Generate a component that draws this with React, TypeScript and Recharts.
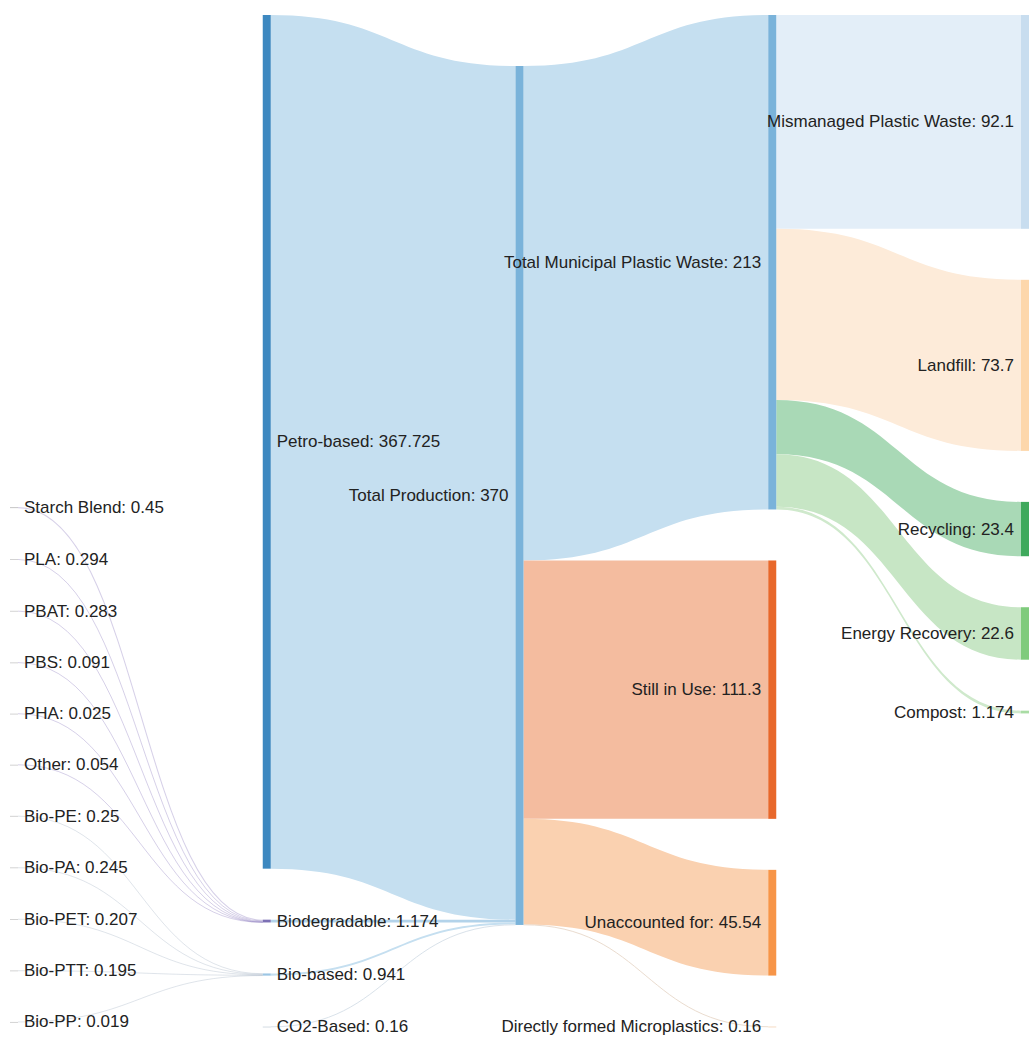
import { Sankey } from "recharts";

// left column: individual bio-plastic materials
const materials = [
  "Starch Blend",
  "PLA",
  "PBAT",
  "PBS",
  "PHA",
  "Other",
  "Bio-PE",
  "Bio-PA",
  "Bio-PET",
  "Bio-PTT",
  "Bio-PP",
];
const materialValues = [0.45, 0.294, 0.283, 0.091, 0.025, 0.054, 0.25, 0.245, 0.207, 0.195, 0.019];
const materialGroups = [
  "Biodegradable",
  "Biodegradable",
  "Biodegradable",
  "Biodegradable",
  "Biodegradable",
  "Biodegradable",
  "Bio-based",
  "Bio-based",
  "Bio-based",
  "Bio-based",
  "Bio-based",
];

const feedstocks = ["Petro-based", "Biodegradable", "Bio-based", "CO2-Based"];
const feedstockValues = [367.725, 1.174, 0.941, 0.16];
const feedstockColors = ["#3d88c0", "#7c70b4", "#9cc6e4", "#c9d3dc"];
const feedstockLinkColors = ["#c5dff0", "#b3d3ea", "#c5dff0", "#d9e2ea"];

const totalLabel = "Total Production";
const totalValue = 370;

const fates = [
  "Total Municipal Plastic Waste",
  "Still in Use",
  "Unaccounted for",
  "Directly formed Microplastics",
];
const fateValues = [213, 111.3, 45.54, 0.16];
const fateColors = ["#7ab3da", "#e8682b", "#f79548", "#f3d2b4"];
const fateLinkColors = ["#c5dff0", "#f4bc9f", "#fad1b0", "#eadccf"];

const treatments = ["Mismanaged Plastic Waste", "Landfill", "Recycling", "Energy Recovery", "Compost"];
const treatmentValues = [92.1, 73.7, 23.4, 22.6, 1.174];
const treatmentColors = ["#c8ddef", "#fdd7ab", "#3fa95c", "#7fcb7c", "#a9dca4"];
const treatmentLinkColors = ["#e3eef8", "#fdebd9", "#a9d9b6", "#c7e6c5", "#cfe9cc"];

// invisible helper nodes, only there to push columns into place
const SPACER_LEFT = 190;
const TINY = 0.001;

type N = { name: string; label?: string; color: string; hidden?: boolean };
type L = { source: number; target: number; value: number; color: string; hidden?: boolean };

const nodes: N[] = [];
const links: L[] = [];
const idx: Record<string, number> = {};
const add = (key: string, n: N) => {
  idx[key] = nodes.length;
  nodes.push(n);
};

add("spacerLeft", { name: "", color: "none", hidden: true });
materials.forEach((m, i) =>
  add(m, { name: m, label: `${m}: ${materialValues[i]}`, color: "#c8c8c8" })
);
feedstocks.forEach((f, i) =>
  add(f, { name: f, label: `${f}: ${feedstockValues[i]}`, color: feedstockColors[i] })
);
add("spacerMid", { name: "", color: "none", hidden: true });
add(totalLabel, { name: totalLabel, label: `${totalLabel}: ${totalValue}`, color: "#7ab3da" });
fates.forEach((f, i) => add(f, { name: f, label: `${f}: ${fateValues[i]}`, color: fateColors[i] }));
treatments.forEach((t, i) =>
  add(t, { name: t, label: `${t}: ${treatmentValues[i]}`, color: treatmentColors[i] })
);

links.push({ source: idx.spacerLeft, target: idx["Petro-based"], value: SPACER_LEFT, color: "none", hidden: true });
links.push({ source: idx.spacerLeft, target: idx["CO2-Based"], value: TINY, color: "none", hidden: true });
links.push({ source: idx["Petro-based"], target: idx.spacerMid, value: TINY, color: "none", hidden: true });
materials.forEach((m, i) =>
  links.push({
    source: idx[m],
    target: idx[materialGroups[i]],
    value: materialValues[i],
    color: materialGroups[i] === "Biodegradable" ? "rgba(120,100,180,0.3)" : "rgba(150,165,185,0.3)",
  })
);
feedstocks.forEach((f, i) =>
  links.push({ source: idx[f], target: idx[totalLabel], value: feedstockValues[i], color: feedstockLinkColors[i] })
);
fates.forEach((f, i) =>
  links.push({ source: idx[totalLabel], target: idx[f], value: fateValues[i], color: fateLinkColors[i] })
);
treatments.forEach((t, i) =>
  links.push({ source: idx[fates[0]], target: idx[t], value: treatmentValues[i], color: treatmentLinkColors[i] })
);

const FlowNode = (props: any) => {
  const { x, y, width, height, payload } = props;
  if (payload.hidden) return <g />;
  const onLeft = payload.depth <= 1;
  const cy = y + height / 2;
  return (
    <g>
      <rect x={x} y={y} width={width} height={Math.max(height, 0.8)} fill={payload.color} />
      <text
        x={onLeft ? x + width + 6 : x - 7}
        y={cy}
        textAnchor={onLeft ? "start" : "end"}
        dominantBaseline="central"
        fontSize={17}
        fill="#222"
        fontFamily="'Liberation Sans', Arial, sans-serif"
      >
        {payload.label}
      </text>
    </g>
  );
};

const FlowLink = (props: any) => {
  const { sourceX, sourceY, sourceControlX, targetX, targetY, targetControlX, linkWidth, payload } = props;
  if (payload.hidden) return <g />;
  const color = payload.color;
  if (linkWidth < 1.5) {
    return (
      <path
        d={`M${sourceX},${sourceY} C${sourceControlX},${sourceY} ${targetControlX},${targetY} ${targetX},${targetY}`}
        fill="none"
        stroke={color}
        strokeWidth={Math.max(linkWidth, 1)}
      />
    );
  }
  const h = linkWidth / 2;
  const d =
    `M${sourceX},${sourceY - h} C${sourceControlX},${sourceY - h} ${targetControlX},${targetY - h} ${targetX},${targetY - h}` +
    ` L${targetX},${targetY + h} C${targetControlX},${targetY + h} ${sourceControlX},${sourceY + h} ${sourceX},${sourceY + h} Z`;
  return <path d={d} fill={color} stroke="none" />;
};

export default function App() {
  return (
    <div style={{ position: "absolute", left: 0, top: 0, width: 1029, height: 1037, background: "#fff" }}>
      <Sankey
        width={1029}
        height={1037}
        data={{ nodes, links }}
        nodeWidth={8}
        nodePadding={51}
        iterations={0}
        sort={false}
        align="left"
        margin={{ top: 15, right: 0, bottom: 10, left: 10 }}
        node={<FlowNode />}
        link={<FlowLink />}
      />
    </div>
  );
}
